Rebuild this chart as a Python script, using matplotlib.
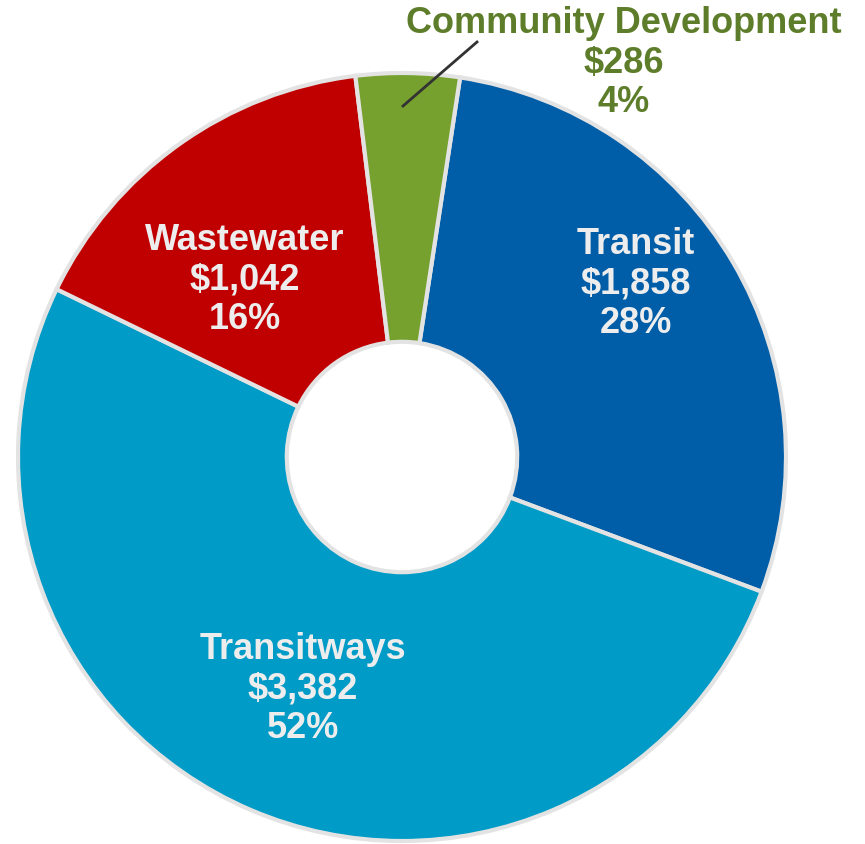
import matplotlib.pyplot as plt

# Data
categories = ['Transit', 'Transitways', 'Wastewater', 'Community Development']
amounts = [1858, 3382, 1042, 286]
percents = ['28%', '52%', '16%', '4%']
colors = ['#005EA8', '#009BC6', '#C00000', '#76A12F']

plt.rcParams['font.family'] = ['Liberation Sans', 'DejaVu Sans']

fig = plt.figure(figsize=(8.65, 8.45), dpi=100)
ax = fig.add_axes([0, 0, 1, 1])

# pixel-like coordinates (y up)
cx, cy, r = 402, 387, 384
start = 81.3

wedges, _ = ax.pie(amounts, colors=colors, startangle=start, counterclock=False,
                   center=(cx, cy), radius=r,
                   wedgeprops=dict(width=r * 0.70, edgecolor='#E3E3E3', linewidth=3))
ax.set_xlim(0, 865)
ax.set_ylim(0, 845)
ax.axis('off')

def label(i):
    return f"{categories[i]}\n${amounts[i]:,}\n{percents[i]}"

txt = dict(fontsize=26, fontweight='bold', ha='center', va='center', linespacing=1.15)
ax.text(636, 845 - 284, label(0), color='#EDEDED', **txt)
ax.text(303, 845 - 689, label(1), color='#EDEDED', **txt)
ax.text(245, 845 - 280, label(2), color='#EDEDED', **txt)
ax.text(624, 845 - 63, label(3), color='#5E7D2A', **txt)

# leader line for the small slice
ax.plot([403, 477], [845 - 107, 845 - 43], color='#333333', linewidth=2)

fig.savefig('out.png', dpi=100)
